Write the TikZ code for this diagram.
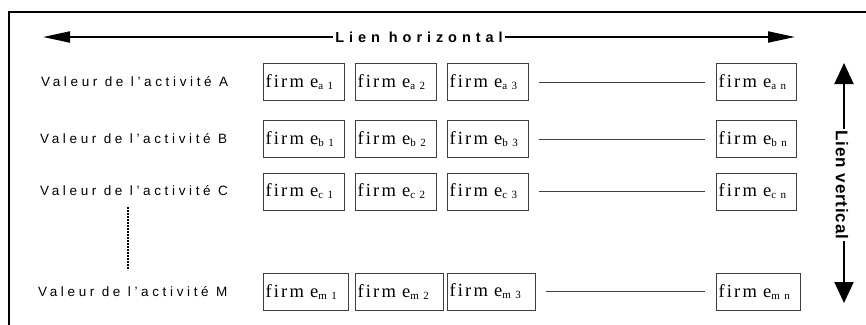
\documentclass[tikz,border=0pt]{standalone}
\usepackage{fontspec}
\setmainfont{Liberation Serif}
\newfontfamily\labfont[LetterSpace=27]{Liberation Sans}
\newfontfamily\hfont[LetterSpace=34]{Liberation Sans}
\newfontfamily\vfont[LetterSpace=5]{Liberation Sans}
\newfontfamily\firmfont[LetterSpace=12]{Liberation Serif}
\newfontfamily\subfont[LetterSpace=40]{Liberation Serif}
\usetikzlibrary{arrows.meta}
\newcommand\fsub[1]{\raisebox{-2pt}{\subfont\fontsize{11}{11}\selectfont #1}}
\tikzset{
  firmbox/.style={draw=black!75, line width=0.8pt, minimum height=37pt, inner xsep=2.5pt, inner ysep=0pt,
     text width=#1, align=left, font=\firmfont\fontsize{18.5}{18.5}\selectfont},
  firmbox/.default=76pt,
  actlabel/.style={anchor=west, inner sep=0pt, font=\labfont\fontsize{13.5}{13.5}\selectfont},
  rowline/.style={draw=black!75, line width=0.9pt, shorten <=11pt, shorten >=11pt},
  harrow/.style={line width=2pt, -{Triangle[length=27pt,width=11pt]}},
  varrow/.style={line width=2pt, -{Triangle[length=21pt,width=19pt]}},
  frameline/.style={line width=2.5pt},
  dotline/.style={line width=1.3pt, dash pattern=on 2pt off 1pt}
}
\begin{document}
\begin{tikzpicture}[x=1pt,y=-1pt]
\useasboundingbox (0,0) rectangle (866,324);
\clip (0,0) rectangle (866,324);
\fill[white] (0,0) rectangle (866,324);
\draw[frameline] (9,340) -- (9,12) -- (880,12);

% horizontal link
\node[inner sep=2pt, font=\hfont\bfseries\fontsize{14.5}{14.5}\selectfont] (hl) at (419,37) {Lien horizontal};
\coordinate (hlL) at (43,37);
\coordinate (hlR) at (795,37);
\draw[harrow] (hl.west) -- (hlL);
\draw[harrow] (hl.east) -- (hlR);

% vertical link
\node[inner sep=2pt, rotate=-90, font=\vfont\bfseries\fontsize{17}{17}\selectfont] (vl) at (842,185) {Lien vertical};
\coordinate (vlT) at (844,63);
\coordinate (vlB) at (844,303);
\draw[varrow] (vl.west -| vlT) -- (vlT);
\draw[varrow] (vl.east -| vlB) -- (vlB);

% row labels
\node[actlabel] (la) at (41,82) {Valeur de l’activité A};
\node[actlabel] (lb) at (40,139) {Valeur de l’activité B};
\node[actlabel] (lc) at (40,191) {Valeur de l’activité C};
\node[actlabel] (lm) at (38,292) {Valeur de l’activité M};
\coordinate (dT) at (128,207);
\coordinate (dB) at (128,270);
\draw[dotline] (dT) -- (dB);

% row A
\node[firmbox] (a1) at (303.5,82) {firm e\fsub{a1}};
\node[firmbox] (a2) at (395.5,82) {firm e\fsub{a2}};
\node[firmbox] (a3) at (487.5,82) {firm e\fsub{a3}};
\node[firmbox=75pt] (an) at (756,82) {firm e\fsub{an}};
\draw[rowline] (a3) -- (an);
% row B
\node[firmbox] (b1) at (303.5,139) {firm e\fsub{b1}};
\node[firmbox] (b2) at (395.5,139) {firm e\fsub{b2}};
\node[firmbox] (b3) at (487.5,139) {firm e\fsub{b3}};
\node[firmbox=75pt] (bn) at (756,139) {firm e\fsub{bn}};
\draw[rowline] (b3) -- (bn);
% row C
\node[firmbox] (c1) at (303.5,191.5) {firm e\fsub{c1}};
\node[firmbox] (c2) at (395.5,191.5) {firm e\fsub{c2}};
\node[firmbox] (c3) at (487.5,191.5) {firm e\fsub{c3}};
\node[firmbox=75pt] (cn) at (756,191.5) {firm e\fsub{cn}};
\draw[rowline] (c3) -- (cn);
% row M
\node[firmbox=80pt] (m1) at (305.5,291.5) {firm e\fsub{m1}};
\node[firmbox=83pt] (m2) at (399,291.5) {firm e\fsub{m2}};
\node[firmbox=83pt] (m3) at (491,291.5) {firm e\fsub{m3}};
\node[firmbox=79pt] (mn) at (758,291.5) {firm e\fsub{mn}};
\draw[rowline] (m3) -- (mn);
\end{tikzpicture}
\end{document}
